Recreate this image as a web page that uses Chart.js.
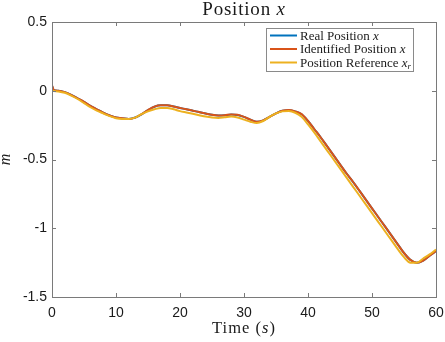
<!DOCTYPE html>
<html>
<head>
<meta charset="utf-8">
<script src="https://cdn.jsdelivr.net/npm/chart.js@4.4.1/dist/chart.umd.min.js"></script>
<style>
  html, body { margin: 0; padding: 0; background: #fff; }
  #wrap { width: 445px; height: 342px; position: relative; }
</style>
</head>
<body>
<div id="wrap"><canvas id="c" width="445" height="342"></canvas></div>
<script>
// ---- data ----
const timeS = [0,0.3,1,2,3,4,5,6,7,8,9,10,11,12,13,14,15,16,17,18,19,20,21,22,23,24,25,26,27,28,29,30,31,32,33,34,35,36,37,38,39,40,41,42,43,44,45,46,47,48,49,50,51,52,53,54,55,56,57,58,59,60];
const realPosition = [0.035,0.004,0.0,-0.01,-0.03,-0.055,-0.081,-0.11,-0.135,-0.16,-0.18,-0.195,-0.201,-0.205,-0.195,-0.171,-0.141,-0.116,-0.106,-0.106,-0.115,-0.125,-0.135,-0.145,-0.155,-0.165,-0.175,-0.18,-0.178,-0.173,-0.176,-0.19,-0.21,-0.225,-0.216,-0.19,-0.165,-0.146,-0.141,-0.151,-0.171,-0.22,-0.28,-0.34,-0.405,-0.47,-0.535,-0.6,-0.661,-0.725,-0.79,-0.855,-0.92,-0.985,-1.05,-1.115,-1.18,-1.23,-1.25,-1.235,-1.2,-1.166];
const identifiedPosition = [0.04,0.005,0.0,-0.01,-0.03,-0.055,-0.08,-0.11,-0.135,-0.16,-0.18,-0.195,-0.2,-0.205,-0.195,-0.17,-0.14,-0.115,-0.105,-0.105,-0.115,-0.125,-0.135,-0.145,-0.155,-0.165,-0.175,-0.18,-0.178,-0.172,-0.175,-0.19,-0.21,-0.225,-0.215,-0.19,-0.165,-0.145,-0.14,-0.15,-0.17,-0.22,-0.28,-0.34,-0.405,-0.47,-0.535,-0.6,-0.66,-0.725,-0.79,-0.855,-0.92,-0.985,-1.05,-1.115,-1.18,-1.23,-1.25,-1.235,-1.2,-1.165];
const referencePosition = [0.0,-0.002,-0.005,-0.015,-0.035,-0.06,-0.09,-0.12,-0.145,-0.165,-0.185,-0.2,-0.205,-0.205,-0.195,-0.17,-0.15,-0.135,-0.125,-0.125,-0.135,-0.148,-0.158,-0.168,-0.178,-0.188,-0.195,-0.198,-0.193,-0.188,-0.195,-0.21,-0.225,-0.235,-0.22,-0.19,-0.165,-0.15,-0.148,-0.16,-0.19,-0.245,-0.305,-0.37,-0.435,-0.5,-0.565,-0.63,-0.695,-0.76,-0.825,-0.89,-0.955,-1.02,-1.085,-1.15,-1.21,-1.25,-1.25,-1.22,-1.19,-1.155];
const xTicks = [0,10,20,30,40,50,60];
const yTicks = [0.5,0,-0.5,-1,-1.5];
const seriesLabels = ['Real Position', 'Identified Position', 'Position Reference'];
const seriesSymbols = [['x',''], ['x',''], ['x','r']];
const seriesColors = ['#0072BD', '#D95319', '#EDB120'];
const titleMain = 'Position ';
const titleSym = 'x';
const xLabelParts = [['Time (', false], ['s', true], [')', false]];
const yLabelText = 'm';

const toXY = vals => timeS.map((t, i) => ({ x: t, y: vals[i] }));
const seriesValues = [realPosition, identifiedPosition, referencePosition];

const serif = '"Liberation Serif", "Times New Roman", serif';
const sans = '"Liberation Sans", Arial, sans-serif';
const axisColor = '#7a7a7a';

function drawMixed(ctx, parts, x, y, size, align, spacing) {
  ctx.letterSpacing = (spacing || 0) + 'px';
  let widths = parts.map(p => { ctx.font = (p[1] ? 'italic ' : '') + size + 'px ' + serif; return ctx.measureText(p[0]).width; });
  let total = widths.reduce((a, b) => a + b, 0);
  let cx = align === 'center' ? x - total / 2 : x;
  ctx.textAlign = 'left';
  parts.forEach((p, i) => {
    ctx.font = (p[1] ? 'italic ' : '') + size + 'px ' + serif;
    ctx.fillText(p[0], cx, y);
    cx += widths[i];
  });
  ctx.letterSpacing = '0px';
}

const decor = {
  id: 'decor',
  afterDraw(chart) {
    const ctx = chart.ctx;
    const a = chart.chartArea;
    const xs = chart.scales.x, ys = chart.scales.y;
    ctx.save();
    // box
    ctx.strokeStyle = axisColor;
    ctx.lineWidth = 1;
    ctx.strokeRect(Math.round(a.left) + 0.5, Math.round(a.top) + 0.5, Math.round(a.right - a.left), Math.round(a.bottom - a.top));
    // inward ticks
    const tl = 4;
    ctx.beginPath();
    xTicks.forEach(v => {
      const px = Math.round(xs.getPixelForValue(v)) + 0.5;
      ctx.moveTo(px, a.bottom); ctx.lineTo(px, a.bottom - tl);
      ctx.moveTo(px, a.top); ctx.lineTo(px, a.top + tl);
    });
    yTicks.forEach(v => {
      const py = Math.round(ys.getPixelForValue(v)) + 0.5;
      ctx.moveTo(a.left, py); ctx.lineTo(a.left + tl, py);
      ctx.moveTo(a.right, py); ctx.lineTo(a.right - tl, py);
    });
    ctx.stroke();

    ctx.fillStyle = '#1a1a1a';
    ctx.textBaseline = 'alphabetic';
    const cxp = (a.left + a.right) / 2;
    // title
    drawMixed(ctx, [[titleMain, false], [titleSym, true]], cxp, 15, 19, 'center', 0.8);
    // x label
    drawMixed(ctx, xLabelParts, cxp, 333, 16.5, 'center', 1);
    // y label
    ctx.save();
    ctx.translate(10, (a.top + a.bottom) / 2);
    ctx.rotate(-Math.PI / 2);
    drawMixed(ctx, [[yLabelText, true]], 0, 0, 16, 'center', 0);
    ctx.restore();

    // legend box
    const lx = 266, ly = 28, lw = 147, lh = 43;
    ctx.fillStyle = '#fff';
    ctx.fillRect(lx, ly, lw, lh);
    ctx.strokeStyle = '#8a8a8a';
    ctx.lineWidth = 1;
    ctx.strokeRect(lx + 0.5, ly + 0.5, lw, lh);
    const rows = [35.5, 49, 62.5];
    seriesLabels.forEach((lab, i) => {
      ctx.strokeStyle = seriesColors[i];
      ctx.lineWidth = 2;
      ctx.beginPath();
      ctx.moveTo(270, rows[i]); ctx.lineTo(297, rows[i]);
      ctx.stroke();
      ctx.fillStyle = '#1a1a1a';
      ctx.textBaseline = 'alphabetic';
      const base = rows[i] + 4;
      ctx.font = '13px ' + serif;
      ctx.textAlign = 'left';
      ctx.fillText(lab + ' ', 300, base);
      let w = ctx.measureText(lab + ' ').width;
      ctx.font = 'italic 13px ' + serif;
      ctx.fillText(seriesSymbols[i][0], 300 + w, base);
      if (seriesSymbols[i][1]) {
        const w2 = ctx.measureText(seriesSymbols[i][0]).width;
        ctx.font = 'italic 9px ' + serif;
        ctx.fillText(seriesSymbols[i][1], 300 + w + w2, base + 2);
      }
    });
    ctx.restore();
  }
};

new Chart(document.getElementById('c'), {
  type: 'line',
  data: {
    datasets: seriesValues.map((vals, i) => ({
      label: seriesLabels[i] + ' ' + seriesSymbols[i].join(''),
      data: toXY(vals),
      borderColor: seriesColors[i],
      backgroundColor: seriesColors[i],
      borderWidth: 2,
      pointRadius: 0,
      cubicInterpolationMode: 'monotone',
      fill: false,
      order: 3 - i
    }))
  },
  options: {
    responsive: false,
    animation: false,
    events: [],
    layout: { padding: { left: 0, right: 9, top: 22, bottom: 0 } },
    plugins: { legend: { display: false }, title: { display: false }, tooltip: { enabled: false } },
    scales: {
      x: {
        type: 'linear', min: 0, max: 60,
        afterBuildTicks: s => { s.ticks = xTicks.map(v => ({ value: v })); },
        afterFit: s => { s.height = 45; s.paddingLeft = 0; s.paddingRight = 0; },
        grid: { display: false, drawTicks: false },
        border: { display: false },
        ticks: { padding: 8, color: '#1a1a1a', font: { family: sans, size: 14 }, maxRotation: 0, callback: v => String(v) }
      },
      y: {
        type: 'linear', min: -1.5, max: 0.5,
        afterBuildTicks: s => { s.ticks = yTicks.map(v => ({ value: v })); },
        afterFit: s => { s.width = 52; s.paddingTop = 0; s.paddingBottom = 0; },
        grid: { display: false, drawTicks: false },
        border: { display: false },
        ticks: { padding: 5, color: '#1a1a1a', font: { family: sans, size: 14 }, callback: v => String(v) }
      }
    }
  },
  plugins: [decor]
});
</script>
</body>
</html>
